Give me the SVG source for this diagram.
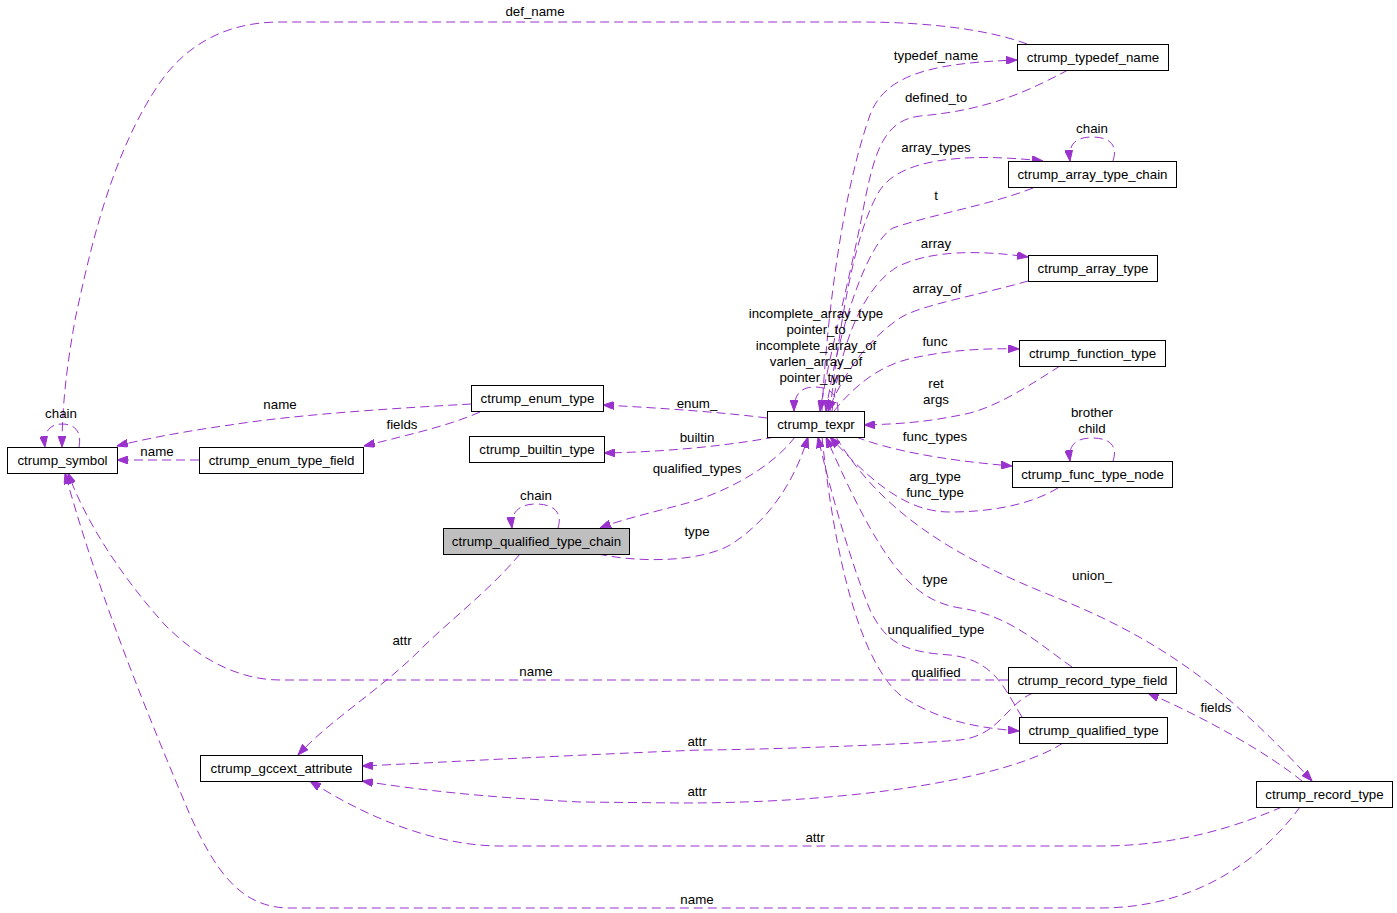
<svg xmlns="http://www.w3.org/2000/svg" width="1397" height="913" viewBox="0 0 1397 913">
<style>
.n rect{fill:#fff;stroke:#000;stroke-width:1}
.n text,.l text{font-family:"Liberation Sans",Arial,sans-serif;font-size:13.3px;fill:#000;text-anchor:middle}
.e path{fill:none;stroke:#9a32cd;stroke-width:1;stroke-dasharray:9,5;marker-end:url(#a)}
</style>
<defs>
<marker id="a" markerWidth="11" markerHeight="8" refX="11" refY="4" orient="auto" markerUnits="userSpaceOnUse">
<path d="M0,0 L11,4 L0,8 z" fill="#9a32cd" stroke="#9a32cd" stroke-width="1"/>
</marker>
</defs>
<rect width="1397" height="913" fill="#fff"/>
<g class="e" id="edges">
<path d="M1027,44 C990,30 930,22 860,22 L280,22 C220,22 180,50 155,90 C110,160 90,250 75,320 C66,370 62,410 62,447"/>
<path d="M822,411 C826,330 840,200 870,115 C885,75 930,63 1017,60"/>
<path d="M1068,70 C1030,90 990,110 920,116 C885,120 875,150 865,200 C850,280 830,350 820,411"/>
<path d="M830,411 C840,320 855,230 880,190 C900,160 960,152 1043,161"/>
<path d="M1113,161 C1118,145 1110,137 1092,137 C1075,137 1068,145 1070,161"/>
<path d="M1033,188 C990,205 930,215 893,228 C870,240 840,320 826,411"/>
<path d="M832,411 C840,350 860,290 897,267 C930,250 980,250 1028,257"/>
<path d="M1028,281 C980,295 920,305 900,318 C870,338 845,370 828,411"/>
<path d="M838,411 C838,395 830,387 815,387 C800,387 794,395 794,411"/>
<path d="M834,411 C855,385 880,365 913,358 C950,350 985,348 1019,349"/>
<path d="M1060,366 C1030,385 1000,405 970,413 C930,422 900,424 864,425"/>
<path d="M856,437 C890,450 940,460 1012,466"/>
<path d="M1113,461 C1118,446 1110,438 1092,438 C1075,438 1068,446 1070,461"/>
<path d="M1058,488 C1030,505 990,512 950,512 C905,512 870,480 830,437"/>
<path d="M767,418 C720,412 660,408 603,405"/>
<path d="M775,437 C720,447 660,452 604,453"/>
<path d="M795,437 C770,470 720,495 680,505 C650,513 620,520 600,528"/>
<path d="M598,554 C640,563 700,562 730,545 C770,520 795,480 808,437"/>
<path d="M558,528 C563,512 553,504 536,504 C520,504 510,512 512,528"/>
<path d="M520,554 C490,590 450,620 420,650 C380,690 330,720 298,755"/>
<path d="M471,404 C400,408 300,414 230,425 C180,432 140,440 117,446"/>
<path d="M480,412 C450,425 420,432 364,446"/>
<path d="M199,460 L117,460"/>
<path d="M79,447 C82,432 75,424 62,424 C50,424 43,432 45,447"/>
<path d="M1008,680 L280,680 C240,680 200,660 165,625 C120,575 85,520 68,473"/>
<path d="M1300,807 C1265,855 1200,908 1100,908 L290,908 C240,908 215,870 190,815 C150,720 100,600 65,473"/>
<path d="M1072,667 C1040,645 1010,615 960,608 C910,600 880,560 826,437"/>
<path d="M1022,717 C1005,690 995,660 950,655 C900,652 885,640 870,610 C850,560 830,490 818,437"/>
<path d="M822,437 C835,560 860,660 900,695 C940,722 980,728 1019,731"/>
<path d="M836,437 C880,510 950,555 1050,595 C1150,635 1220,680 1312,781"/>
<path d="M1302,781 C1270,755 1210,720 1148,693"/>
<path d="M1033,693 C1005,705 1000,735 960,740 C900,745 750,750 700,750 C550,756 450,762 362,766"/>
<path d="M1063,743 C1030,765 950,785 850,795 C780,802 720,803 680,803 L580,802 C480,797 420,790 362,781"/>
<path d="M1282,807 C1240,825 1180,846 1100,846 L500,846 C440,846 370,820 310,781"/>
</g>
<g class="l" id="labels">
<text x="535" y="16">def_name</text>
<text x="936" y="60">typedef_name</text>
<text x="936" y="102">defined_to</text>
<text x="936" y="152">array_types</text>
<text x="1092" y="133">chain</text>
<text x="936" y="200">t</text>
<text x="936" y="248">array</text>
<text x="937" y="293">array_of</text>
<text x="816" y="318">incomplete_array_type</text>
<text x="816" y="334">pointer_to</text>
<text x="816" y="350">incomplete_array_of</text>
<text x="816" y="366">varlen_array_of</text>
<text x="816" y="382">pointer_type</text>
<text x="935" y="346">func</text>
<text x="936" y="388">ret</text>
<text x="936" y="404">args</text>
<text x="935" y="441">func_types</text>
<text x="1092" y="417">brother</text>
<text x="1092" y="433">child</text>
<text x="935" y="481">arg_type</text>
<text x="935" y="497">func_type</text>
<text x="697" y="408">enum_</text>
<text x="697" y="442">builtin</text>
<text x="697" y="473">qualified_types</text>
<text x="697" y="536">type</text>
<text x="536" y="500">chain</text>
<text x="402" y="645">attr</text>
<text x="280" y="409">name</text>
<text x="402" y="429">fields</text>
<text x="157" y="456">name</text>
<text x="61" y="418">chain</text>
<text x="536" y="676">name</text>
<text x="697" y="904">name</text>
<text x="935" y="584">type</text>
<text x="936" y="634">unqualified_type</text>
<text x="936" y="677">qualified</text>
<text x="1092" y="580">union_</text>
<text x="1216" y="712">fields</text>
<text x="697" y="746">attr</text>
<text x="697" y="796">attr</text>
<text x="815" y="842">attr</text>
</g>
<g class="n" id="ctrump_symbol"><rect x="7.5" y="447.5" width="110" height="26"/><text x="62.5" y="465">ctrump_symbol</text></g>
<g class="n" id="ctrump_enum_type_field"><rect x="199.5" y="447.5" width="164" height="26"/><text x="281.5" y="465">ctrump_enum_type_field</text></g>
<g class="n" id="ctrump_enum_type"><rect x="471.5" y="385.5" width="132" height="26"/><text x="537.5" y="403">ctrump_enum_type</text></g>
<g class="n" id="ctrump_builtin_type"><rect x="469.5" y="436.5" width="135" height="26"/><text x="537" y="454">ctrump_builtin_type</text></g>
<g class="n" id="ctrump_qualified_type_chain"><rect x="443.5" y="528.5" width="186" height="26" style="fill:#bfbfbf"/><text x="536.5" y="546">ctrump_qualified_type_chain</text></g>
<g class="n" id="ctrump_texpr"><rect x="767.5" y="411.5" width="97" height="26"/><text x="816" y="429">ctrump_texpr</text></g>
<g class="n" id="ctrump_typedef_name"><rect x="1017.5" y="44.5" width="151" height="26"/><text x="1093" y="62">ctrump_typedef_name</text></g>
<g class="n" id="ctrump_array_type_chain"><rect x="1008.5" y="161.5" width="168" height="26"/><text x="1092.5" y="179">ctrump_array_type_chain</text></g>
<g class="n" id="ctrump_array_type"><rect x="1028.5" y="255.5" width="129" height="26"/><text x="1093" y="273">ctrump_array_type</text></g>
<g class="n" id="ctrump_function_type"><rect x="1019.5" y="340.5" width="146" height="26"/><text x="1092.5" y="358">ctrump_function_type</text></g>
<g class="n" id="ctrump_func_type_node"><rect x="1012.5" y="461.5" width="160" height="26"/><text x="1092.5" y="479">ctrump_func_type_node</text></g>
<g class="n" id="ctrump_record_type_field"><rect x="1008.5" y="667.5" width="168" height="26"/><text x="1092.5" y="685">ctrump_record_type_field</text></g>
<g class="n" id="ctrump_qualified_type"><rect x="1019.5" y="717.5" width="148" height="26"/><text x="1093.5" y="735">ctrump_qualified_type</text></g>
<g class="n" id="ctrump_record_type"><rect x="1256.5" y="781.5" width="136" height="26"/><text x="1324.5" y="799">ctrump_record_type</text></g>
<g class="n" id="ctrump_gccext_attribute"><rect x="200.5" y="755.5" width="162" height="26"/><text x="281.5" y="773">ctrump_gccext_attribute</text></g>
</svg>
